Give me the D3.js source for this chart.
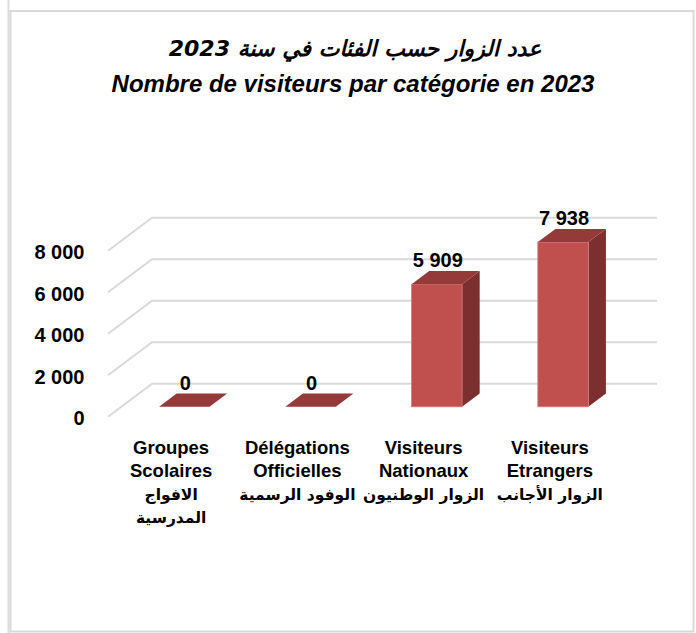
<!DOCTYPE html>
<html><head><meta charset="utf-8">
<script src="https://cdn.jsdelivr.net/npm/d3@7/dist/d3.min.js"></script>
<style>body{margin:0;background:#fff}svg{display:block}</style>
</head><body><svg id="c" width="696" height="633"></svg>
<script>
// ---- data ----
const categoriesFr = [["Groupes","Scolaires"],["Délégations","Officielles"],["Visiteurs","Nationaux"],["Visiteurs","Etrangers"]];
const categoriesAr = [["الافواج","المدرسية"],["الوفود الرسمية"],["الزوار الوطنيون"],["الزوار الأجانب"]];
const values = [0, 0, 5909, 7938];
const yTicks = [0, 2000, 4000, 6000, 8000];
const titleAr = "عدد الزوار حسب الفئات في سنة 2023";
const titleFr = "Nombre de visiteurs par catégorie en 2023";

const svg = d3.select("#c");
const fmt = d3.formatLocale({decimal: ",", thousands: " ", grouping: [3], currency: ["", ""]}).format(",d");

// frame
svg.append("line").attr("x1",8.5).attr("x2",8.5).attr("y1",0).attr("y2",633).attr("stroke","#dcdcdc").attr("stroke-width",2);
svg.append("rect").attr("x",10.5).attr("y",11).attr("width",683).attr("height",620.5)
  .attr("fill","#fff").attr("stroke","#d9d9d9").attr("stroke-width",2);

// 3D geometry
const DX = 44, DY = 33;           // full depth offset
const x = d3.scaleBand().domain(d3.range(values.length)).range([108, 613]).paddingInner(0.6).paddingOuter(0.3);
const y = d3.scaleLinear().domain([0, 8000]).range([416.7, 250.7]);
const off = d => [DX * d, -DY * d];

// gridlines (side wall + back wall)
const grid = svg.append("g").attr("stroke", "#d9d9d9").attr("stroke-width", 2).attr("fill", "none");
yTicks.forEach(v => {
  const y0 = y(v);
  const [bx, by] = off(1);
  grid.append("path").attr("d", `M${x.range()[0]},${y0}L${x.range()[0] + bx},${y0 + by}L${x.range()[1] + bx},${y0 + by}`);
});

// y tick labels
svg.append("g").selectAll("text").data(yTicks).join("text")
  .attr("x", 84.5).attr("y", d => y(d) + 1.5).attr("dy", "0.35em")
  .attr("text-anchor", "end")
  .attr("font-family", "'Liberation Sans', Arial, sans-serif").attr("font-weight", "bold").attr("font-size", 20)
  .attr("fill", "#000").text(d => fmt(d));

// bars
const d0 = 0.3, d1 = 0.7;
const bars = svg.append("g");
values.forEach((v, i) => {
  const [fx, fy] = off(d0);
  const [bx, by] = off(d1);
  const ddx = bx - fx, ddy = by - fy;
  const xl = x(i) + fx, xr = xl + x.bandwidth();
  const yb = y(0) + fy, yt = y(v) + fy;
  bars.append("path").attr("fill", "#7b2f2e")
    .attr("d", `M${xr},${yt}L${xr + ddx},${yt + ddy}L${xr + ddx},${yb + ddy}L${xr},${yb}Z`);
  bars.append("rect").attr("x", xl).attr("y", yt).attr("width", x.bandwidth()).attr("height", yb - yt)
    .attr("fill", "#c0504d").attr("stroke", "#d4797a").attr("stroke-width", v > 0 ? 0.8 : 0);
  bars.append("path").attr("fill", "#943a38")
    .attr("d", `M${xl},${yt}L${xr},${yt}L${xr + ddx},${yt + ddy}L${xl + ddx},${yt + ddy}Z`);
  // data label
  bars.append("text").attr("x", xl + x.bandwidth() / 2 + 1).attr("y", yt - 17)
    .attr("text-anchor", "middle")
    .attr("font-family", "'Liberation Sans', Arial, sans-serif").attr("font-weight", "bold").attr("font-size", 20)
    .attr("fill", "#000").text(fmt(v));
});

// category labels
const cat = svg.append("g").attr("font-family", "'Liberation Sans', 'DejaVu Sans', Arial, sans-serif")
  .attr("font-weight", "bold").attr("font-size", 18.5).attr("fill", "#000").attr("text-anchor", "middle");
categoriesFr.forEach((lines, i) => {
  const cx = x(i) + x.bandwidth() / 2;
  const t = cat.append("text").attr("x", cx).attr("y", 453.5);
  lines.forEach((l, k) => t.append("tspan").attr("x", cx).attr("y", 453.5 + k * 23.5).text(l));
  categoriesAr[i].forEach((l, k) => cat.append("text").attr("x", cx).attr("y", 500 + k * 23)
    .attr("direction", "rtl").attr("font-family", "'DejaVu Sans', sans-serif").attr("font-size", 15.5).text(l));
});

// titles
svg.append("text").attr("x", 355).attr("y", 56).attr("text-anchor", "middle")
  .attr("font-family", "'DejaVu Sans', sans-serif").attr("font-weight", "bold").attr("font-style", "italic")
  .attr("font-size", 22).text(titleAr);
svg.append("text").attr("x", 353).attr("y", 92).attr("text-anchor", "middle")
  .attr("font-family", "'Liberation Sans', Arial, sans-serif").attr("font-weight", "bold").attr("font-style", "italic")
  .attr("font-size", 24).text(titleFr);
</script></body></html>
